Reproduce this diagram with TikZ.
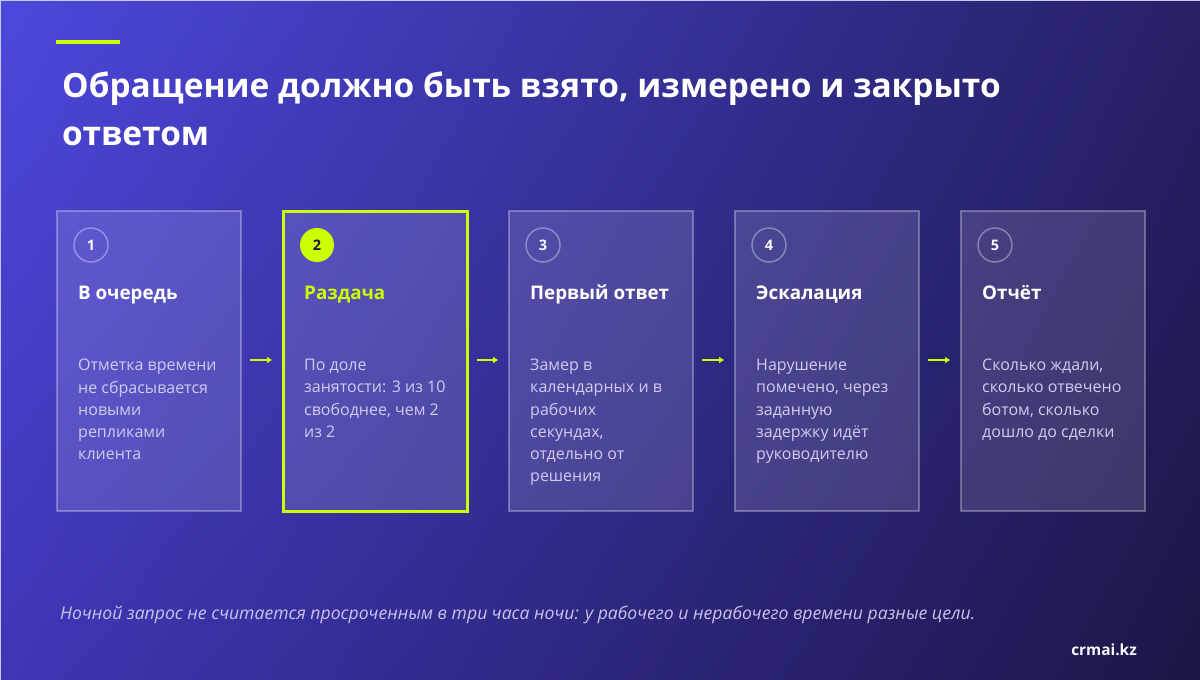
\documentclass[tikz,border=0pt]{standalone}
\usepackage{fontspec}
\setmainfont{Open Sans}
\usetikzlibrary{arrows.meta,shadings}
\definecolor{lime}{RGB}{204,255,0}
\definecolor{bgTL}{RGB}{76,72,220}
\definecolor{bgTR}{RGB}{38,32,102}
\definecolor{bgBL}{RGB}{64,53,181}
\definecolor{bgBR}{RGB}{26,23,70}
\definecolor{desc}{RGB}{208,204,238}
\definecolor{foot}{RGB}{200,196,236}
\definecolor{darknum}{RGB}{26,22,64}
\tikzset{
  card/.style={draw=white, draw opacity=0.3, line width=1.5pt, fill=white, fill opacity=0.13, minimum width=184pt, minimum height=300pt, inner sep=0pt},
  activecard/.style={card, draw=lime, draw opacity=1, line width=2.5pt},
  numcircle/.style={circle, draw=white, draw opacity=0.35, line width=1.5pt, minimum size=34pt, inner sep=0pt, text=white!88!desc, font=\bfseries\fontsize{14.5}{16}\selectfont},
  activenum/.style={circle, fill=lime, minimum size=34pt, inner sep=0pt, text=darknum, font=\bfseries\fontsize{14.5}{16}\selectfont},
  cardtitle/.style={anchor=base west, inner sep=0pt, text=white, font=\bfseries\fontsize{18.8}{22}\selectfont},
  carddesc/.style={anchor=north west, inner sep=0pt, align=left, text=desc, font=\fontsize{16}{22.2}\selectfont},
  flow/.style={draw=lime, line width=2.5pt, -{Triangle[length=5pt,width=6pt]}, shorten >=0pt}
}
\begin{document}
\begin{tikzpicture}[x=1pt,y=-1pt]
\useasboundingbox (0,0) rectangle (1200,680);
\shade[upper left=bgTL, upper right=bgTR, lower left=bgBL, lower right=bgBR] (0,0) rectangle (1200,680);
\draw[white!70!bgTL, line width=1pt] (0,0.5) -- (1200,0.5);
\draw[white!70!bgTL, line width=1pt] (0.5,0) -- (0.5,680);
% accent bar
\fill[lime] (56,40) rectangle (120,44);
% title
\node[anchor=west, inner sep=0pt, text=white, align=left, font=\bfseries\fontsize{33.4}{48}\selectfont] (title) at (62,109) {Обращение должно быть взято, измерено и закрыто\\ответом};
% cards
\foreach \i/\x in {1/56,2/282,3/508,4/734,5/960}{
  \coordinate (c\i) at (\x,210);
}
\node[card, anchor=north west] (card1) at (c1) {};
\node[activecard, anchor=north west] (card2) at (c2) {};
\node[card, anchor=north west] (card3) at (c3) {};
\node[card, anchor=north west] (card4) at (c4) {};
\node[card, anchor=north west] (card5) at (c5) {};
% numbers
\node[numcircle] (n1) at (91,245) {1};
\node[activenum] (n2) at (317,245) {2};
\node[numcircle] (n3) at (543,245) {3};
\node[numcircle] (n4) at (769,245) {4};
\node[numcircle] (n5) at (995,245) {5};
% titles
\node[cardtitle] (t1) at (78,299) {В очередь};
\node[cardtitle, text=lime] (t2) at (304,299) {Раздача};
\node[cardtitle] (t3) at (530,299) {Первый ответ};
\node[cardtitle] (t4) at (756,299) {Эскалация};
\node[cardtitle] (t5) at (982,299) {Отчёт};
% descriptions
\node[carddesc] (d1) at (78,359) {Отметка времени\\не сбрасывается\\новыми\\репликами\\клиента};
\node[carddesc] (d2) at (304,359) {По доле\\занятости: 3 из 10\\свободнее, чем 2\\из 2};
\node[carddesc] (d3) at (530,359) {Замер в\\календарных и в\\рабочих\\секундах,\\отдельно от\\решения};
\node[carddesc] (d4) at (756,359) {Нарушение\\помечено, через\\заданную\\задержку идёт\\руководителю};
\node[carddesc] (d5) at (982,359) {Сколько ждали,\\сколько отвечено\\ботом, сколько\\дошло до сделки};
% arrows
\foreach \a/\b in {1/2,2/3,3/4,4/5}{
  \draw[flow] ([xshift=8pt]card\a.east |- 0,360) -- ([xshift=-10pt]card\b.west |- 0,360);
}
% footer
\node[anchor=west, inner sep=0pt, text=foot, font=\itshape\fontsize{17.6}{20}\selectfont] (note) at (60,615) {Ночной запрос не считается просроченным в три часа ночи: у рабочего и нерабочего времени разные цели.};
\node[anchor=east, inner sep=0pt, text=white!85!desc, font=\bfseries\fontsize{15.4}{18}\selectfont] (brand) at (1137,650) {crmai.kz};
\end{tikzpicture}
\end{document}
